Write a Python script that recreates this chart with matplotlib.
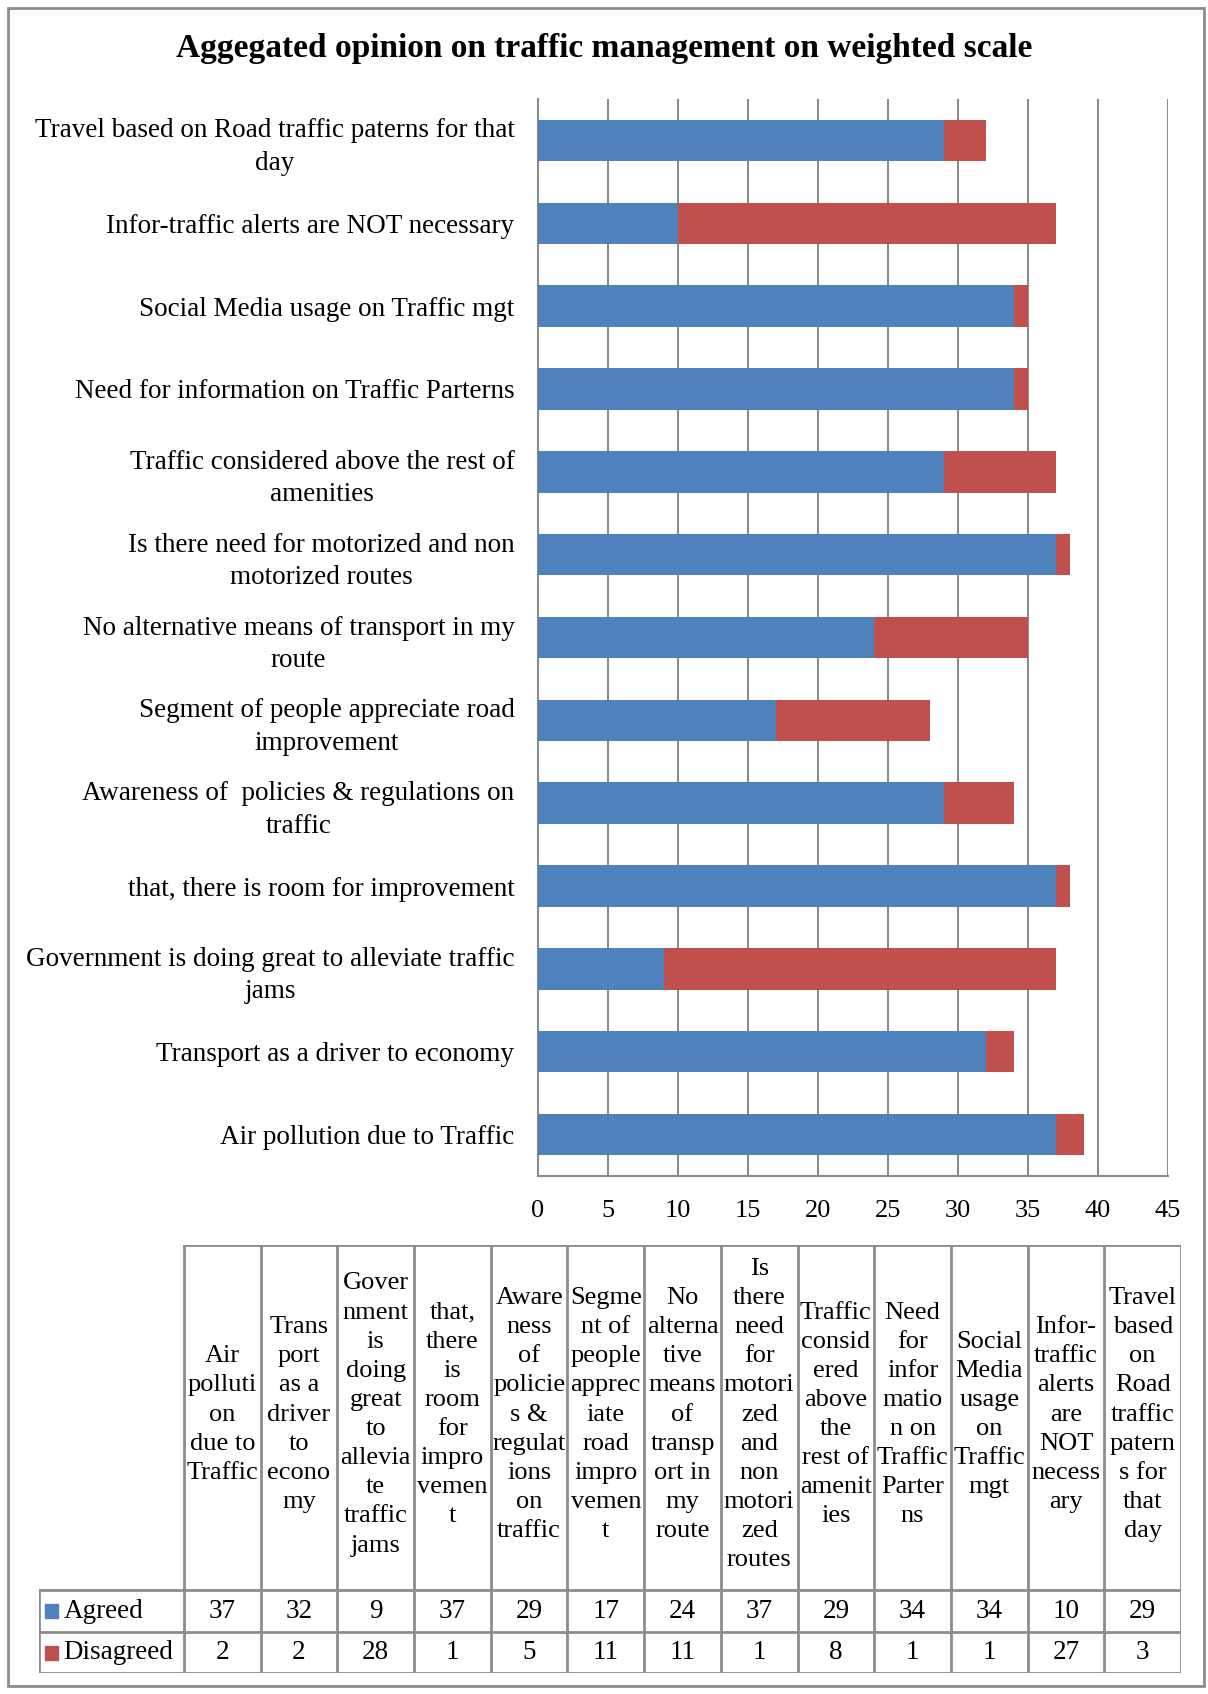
import numpy as np
import matplotlib
matplotlib.use("Agg")
import matplotlib.pyplot as plt
from matplotlib.patches import Rectangle

plt.rcParams['font.family'] = ['Liberation Serif', 'DejaVu Serif']

# data (bottom -> top in the chart, left -> right in the table)
categories = [
    "Air pollution due to Traffic",
    "Transport as a driver to economy",
    "Government is doing great to alleviate traffic\njams",
    "that, there is room for improvement",
    "Awareness of  policies & regulations on\ntraffic",
    "Segment of people appreciate road\nimprovement",
    "No alternative means of transport in my\nroute",
    "Is there need for motorized and non\nmotorized routes",
    "Traffic considered above the rest of\namenities",
    "Need for information on Traffic Parterns",
    "Social Media usage on Traffic mgt",
    "Infor-traffic alerts are NOT necessary",
    "Travel based on Road traffic paterns for that\nday",
]
table_headers = [
    "Air\npolluti\non\ndue to\nTraffic",
    "Trans\nport\nas a\ndriver\nto\necono\nmy",
    "Gover\nnment\nis\ndoing\ngreat\nto\nallevia\nte\ntraffic\njams",
    "that,\nthere\nis\nroom\nfor\nimpro\nvemen\nt",
    "Aware\nness\nof\npolicie\ns &\nregulat\nions\non\ntraffic",
    "Segme\nnt of\npeople\napprec\niate\nroad\nimpro\nvemen\nt",
    "No\nalterna\ntive\nmeans\nof\ntransp\nort in\nmy\nroute",
    "Is\nthere\nneed\nfor\nmotori\nzed\nand\nnon\nmotori\nzed\nroutes",
    "Traffic\nconsid\nered\nabove\nthe\nrest of\namenit\nies",
    "Need\nfor\ninfor\nmatio\nn on\nTraffic\nParter\nns",
    "Social\nMedia\nusage\non\nTraffic\nmgt",
    "Infor-\ntraffic\nalerts\nare\nNOT\nnecess\nary",
    "Travel\nbased\non\nRoad\ntraffic\npatern\ns for\nthat\nday",
]
agreed = [37, 32, 9, 37, 29, 17, 24, 37, 29, 34, 34, 10, 29]
disagreed = [2, 2, 28, 1, 5, 11, 11, 1, 8, 1, 1, 27, 3]
series_names = ["Agreed", "Disagreed"]
xticks = [0, 5, 10, 15, 20, 25, 30, 35, 40, 45]

blue = "#4F81BD"
red = "#C0504D"
grey = "#8C8C8C"

W, H = 1208, 1694
fig = plt.figure(figsize=(W / 100, H / 100), dpi=100)

def frac(x0, y0, x1, y1):
    return [x0 / W, 1 - y1 / H, (x1 - x0) / W, (y1 - y0) / H]

# outer frame
fig.patches.append(Rectangle((8 / W, 8 / H), 1196 / W, 1678 / H, transform=fig.transFigure,
                             fill=False, edgecolor=grey, linewidth=2))

fig.text(0.5, 1 - 48 / H, "Aggegated opinion on traffic management on weighted scale",
         ha="center", va="center", fontsize=24, fontweight="bold")

# bar chart
ax = fig.add_axes(frac(538, 99, 1168, 1176))
y = np.arange(len(categories))
ax.barh(y, agreed, height=0.5, color=blue, label=series_names[0], zorder=3)
ax.barh(y, disagreed, left=agreed, height=0.5, color=red, label=series_names[1], zorder=3)
ax.set_xlim(0, 45)
ax.set_ylim(-0.5, len(categories) - 0.5)
ax.set_xticks(xticks)
ax.set_yticks(y)
ax.set_yticklabels(categories, multialignment="center", linespacing=1.4)
ax.tick_params(axis="y", length=0, pad=17, labelsize=19.5)
ax.tick_params(axis="x", length=0, pad=17, labelsize=19)
ax.grid(axis="x", color=grey, linewidth=1.5, zorder=0)
for s in ["top", "right"]:
    ax.spines[s].set_visible(False)
for s in ["left", "bottom"]:
    ax.spines[s].set_color(grey)
    ax.spines[s].set_linewidth(1.5)

# data table
tx0, tx1 = 39, 1181
col0 = 184
colw = (tx1 - col0) / len(table_headers)
lab_w = (col0 - tx0) / colw
ty_head, ty_r1, ty_r2, ty_end = 1245, 1590, 1632, 1673
tab = fig.add_axes(frac(tx0, ty_head, tx1, ty_end))
tab.set_xlim(-lab_w, len(table_headers))
tab.set_ylim(ty_end - ty_head, 0)
tab.axis("off")
n = len(table_headers)
hb = ty_r1 - ty_head
r1 = ty_r2 - ty_head
r2 = ty_end - ty_head
lk = dict(color=grey, linewidth=2, solid_capstyle="projecting")
tab.plot([0, n], [0, 0], **lk)
for yy in [hb, r1, r2]:
    tab.plot([-lab_w, n], [yy, yy], **lk)
tab.plot([-lab_w, -lab_w], [hb, r2], **lk)
for i in range(n + 1):
    tab.plot([i, i], [0, r2], **lk)
for i, h in enumerate(table_headers):
    tab.text(i + 0.5, hb / 2 - 3, h, ha="center", va="center", fontsize=19,
             linespacing=1.42, multialignment="center")
    tab.text(i + 0.5, (hb + r1) / 2, str(agreed[i]), ha="center", va="center", fontsize=19.5)
    tab.text(i + 0.5, (r1 + r2) / 2, str(disagreed[i]), ha="center", va="center", fontsize=19.5)
for name, col, (a, b) in zip(series_names, [blue, red], [(hb, r1), (r1, r2)]):
    m = (a + b) / 2
    tab.add_patch(Rectangle((-lab_w + 0.08, m - 7), 0.17, 14, color=col))
    tab.text(-lab_w + 0.32, m, name, ha="left", va="center", fontsize=19.5)

fig.savefig("out.png", dpi=100)
